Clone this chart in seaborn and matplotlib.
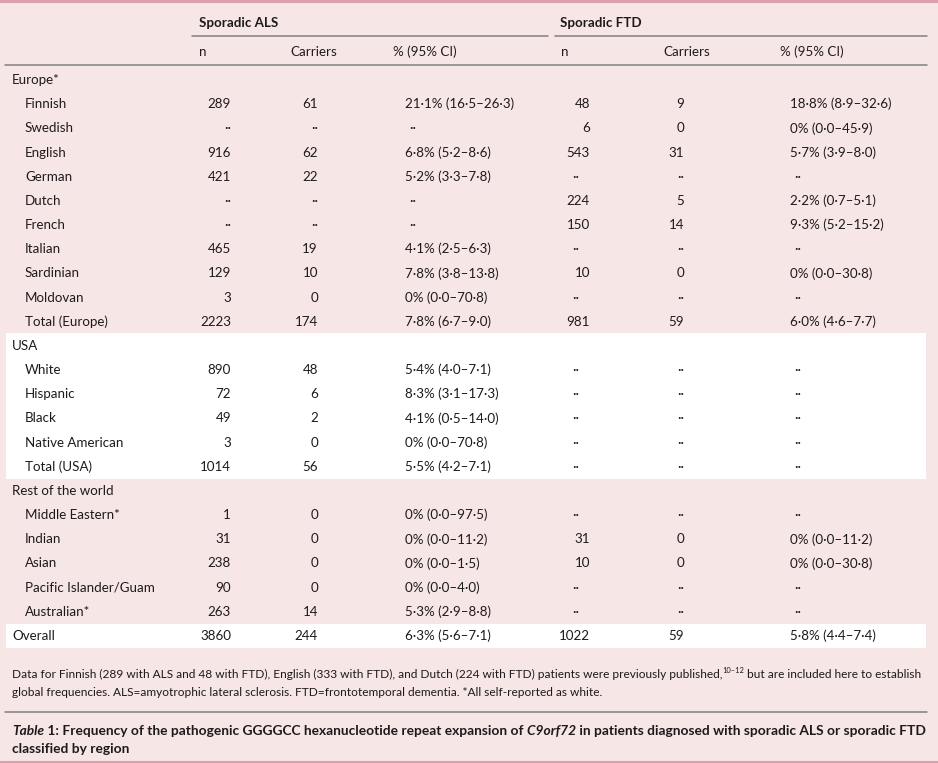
import matplotlib
matplotlib.use("Agg")
import matplotlib.pyplot as plt
from matplotlib.patches import Rectangle
import seaborn as sns

sns.set_theme(style="white")
plt.rcParams["font.family"] = ["Lato", "DejaVu Sans"]

# ---- table data ----
row_labels = ["Europe*", "Finnish", "Swedish", "English", "German", "Dutch", "French",
              "Italian", "Sardinian", "Moldovan", "Total (Europe)",
              "USA", "White", "Hispanic", "Black", "Native American", "Total (USA)",
              "Rest of the world", "Middle Eastern*", "Indian", "Asian",
              "Pacific Islander/Guam", "Australian*", "Overall"]
row_indent = [0, 1, 1, 1, 1, 1, 1, 1, 1, 1, 1,
              0, 1, 1, 1, 1, 1,
              0, 1, 1, 1, 1, 1, 0]
section_rows = ["Europe*", "USA", "Rest of the world"]

NA = None
als_n = [NA, 289, NA, 916, 421, NA, NA, 465, 129, 3, 2223,
         NA, 890, 72, 49, 3, 1014,
         NA, 1, 31, 238, 90, 263, 3860]
als_carriers = [NA, 61, NA, 62, 22, NA, NA, 19, 10, 0, 174,
                NA, 48, 6, 2, 0, 56,
                NA, 0, 0, 0, 0, 14, 244]
als_pct = [NA, 21.1, NA, 6.8, 5.2, NA, NA, 4.1, 7.8, 0, 7.8,
           NA, 5.4, 8.3, 4.1, 0, 5.5,
           NA, 0, 0, 0, 0, 5.3, 6.3]
als_lo = [NA, 16.5, NA, 5.2, 3.3, NA, NA, 2.5, 3.8, 0.0, 6.7,
          NA, 4.0, 3.1, 0.5, 0.0, 4.2,
          NA, 0.0, 0.0, 0.0, 0.0, 2.9, 5.6]
als_hi = [NA, 26.3, NA, 8.6, 7.8, NA, NA, 6.3, 13.8, 70.8, 9.0,
          NA, 7.1, 17.3, 14.0, 70.8, 7.1,
          NA, 97.5, 11.2, 1.5, 4.0, 8.8, 7.1]

ftd_n = [NA, 48, 6, 543, NA, 224, 150, NA, 10, NA, 981,
         NA, NA, NA, NA, NA, NA,
         NA, NA, 31, 10, NA, NA, 1022]
ftd_carriers = [NA, 9, 0, 31, NA, 5, 14, NA, 0, NA, 59,
                NA, NA, NA, NA, NA, NA,
                NA, NA, 0, 0, NA, NA, 59]
ftd_pct = [NA, 18.8, 0, 5.7, NA, 2.2, 9.3, NA, 0, NA, 6.0,
           NA, NA, NA, NA, NA, NA,
           NA, NA, 0, 0, NA, NA, 5.8]
ftd_lo = [NA, 8.9, 0.0, 3.9, NA, 0.7, 5.2, NA, 0.0, NA, 4.6,
          NA, NA, NA, NA, NA, NA,
          NA, NA, 0.0, 0.0, NA, NA, 4.4]
ftd_hi = [NA, 32.6, 45.9, 8.0, NA, 5.1, 15.2, NA, 30.8, NA, 7.7,
          NA, NA, NA, NA, NA, NA,
          NA, NA, 11.2, 30.8, NA, NA, 7.4]

group_headers = ["Sporadic ALS", "Sporadic FTD"]
column_headers = ["n", "Carriers", "% (95% CI)"]

footnote_1 = ("Data for Finnish (289 with ALS and 48 with FTD), English (333 with FTD), "
              "and Dutch (224 with FTD) patients were previously published,")
footnote_ref = "10\u201312"
footnote_2 = " but are included here to establish"
footnote_3 = ("global frequencies. ALS=amyotrophic lateral sclerosis. "
              "FTD=frontotemporal dementia. *All self-reported as white.")
caption_1 = [("Table", "italic"), (" 1:", "normal"),
             (" Frequency of the pathogenic GGGGCC hexanucleotide repeat expansion of", "normal"),
             (" C9orf72", "italic"),
             (" in patients diagnosed with sporadic ALS or sporadic FTD", "normal")]
caption_2 = "classified by region"

# ---- style ----
BG = "#f7e6e6"
INK = "#1e1a1b"
RULE = "#808080"
BORDER = "#dca0ad"
FS = 9.6


def fmt_num(v):
    return "\u00b7\u00b7" if v is None else str(v)


def fmt_pct(p, lo, hi):
    if p is None:
        return "\u00b7\u00b7"
    head = "0%" if p == 0 else f"{p:.1f}%"
    s = f"{head} ({lo:.1f}\u2013{hi:.1f})"
    return s.replace(".", "\u00b7")


fig = plt.figure(figsize=(9.38, 7.63), dpi=100)
fig.patch.set_facecolor(BG)
ax = fig.add_axes([0, 0, 1, 1])
ax.set_xlim(0, 938)
ax.set_ylim(763, 0)
ax.axis("off")
ax.set_facecolor(BG)

# borders
ax.plot([0, 938], [1, 1], color=BORDER, lw=2.2)
ax.plot([0, 938], [761.5, 761.5], color=BORDER, lw=2.2)

# row positions
y0, dy = 80, 24.17
row_y = [y0 + i * dy for i in range(len(row_labels))]

# white bands (USA block and overall row)
usa_start = row_labels.index("USA")
usa_end = row_labels.index("Total (USA)")
ax.add_patch(Rectangle((6, row_y[usa_start] - 13), 920, row_y[usa_end] - row_y[usa_start] + 25,
                       facecolor="white", edgecolor="none", zorder=0))
ov = row_labels.index("Overall")
ax.add_patch(Rectangle((6, row_y[ov] - 12), 920, 24, facecolor="white",
                       edgecolor="none", zorder=0))

# headers
ax.text(199, 23, group_headers[0], fontsize=FS, fontweight="bold", color=INK, va="center")
ax.text(560, 23, group_headers[1], fontsize=FS, fontweight="bold", color=INK, va="center")
ax.plot([192, 548], [35.5, 35.5], color=RULE, lw=1.1)
ax.plot([555, 927], [35.5, 35.5], color=RULE, lw=1.1)
for x0, xs in [(0, [199, 290, 393]), (1, [561, 663, 780])]:
    for x, h in zip(xs, column_headers):
        ax.text(x, 52, h, fontsize=FS, color=INK, va="center")
ax.plot([5, 927], [65, 65], color=RULE, lw=1.1)

# body
for i, lab in enumerate(row_labels):
    y = row_y[i]
    ax.text(12 + 13 * row_indent[i], y, lab, fontsize=FS, color=INK, va="center")
    if lab in section_rows:
        continue
    # ALS columns
    ax.text(231, y, fmt_num(als_n[i]), fontsize=FS, color=INK, va="center", ha="right")
    ax.text(318, y, fmt_num(als_carriers[i]), fontsize=FS, color=INK, va="center", ha="right")
    ax.text(405 if als_pct[i] is not None else 409, y,
            fmt_pct(als_pct[i], als_lo[i], als_hi[i]),
            fontsize=FS, color=INK, va="center")
    # FTD columns
    if ftd_n[i] is None:
        ax.text(576, y, fmt_num(None), fontsize=FS, color=INK, va="center", ha="center")
    else:
        ax.text(590, y, fmt_num(ftd_n[i]), fontsize=FS, color=INK, va="center", ha="right")
    ax.text(684, y, fmt_num(ftd_carriers[i]), fontsize=FS, color=INK, va="center", ha="right")
    ax.text(790 if ftd_pct[i] is not None else 794, y,
            fmt_pct(ftd_pct[i], ftd_lo[i], ftd_hi[i]),
            fontsize=FS, color=INK, va="center")

renderer = fig.canvas.get_renderer()


def put_runs(x, y, parts):
    out = []
    for s, kw in parts:
        t = ax.text(x, y, s, color=INK, va="baseline", **kw)
        out.append(t)
        x = t.get_window_extent(renderer=renderer).x1
    return out


# footnote
FN = 8.55
fn_texts = put_runs(12, 678, [(footnote_1, dict(fontsize=FN)),
                              (footnote_ref, dict(fontsize=5.4)),
                              (footnote_2, dict(fontsize=FN))])
fn_texts[1].set_y(673)
ax.text(12, 696, footnote_3, fontsize=FN, color=INK, va="baseline")

ax.plot([5, 927], [712, 712], color=RULE, lw=1.1)

# caption
CF = 9.9
put_runs(12, 735, [(s, dict(fontsize=CF, fontweight="bold", fontstyle=st)) for s, st in caption_1])
ax.text(12, 753, caption_2, fontsize=CF, fontweight="bold", color=INK, va="baseline")

fig.savefig("out.png", dpi=100, facecolor=BG)
